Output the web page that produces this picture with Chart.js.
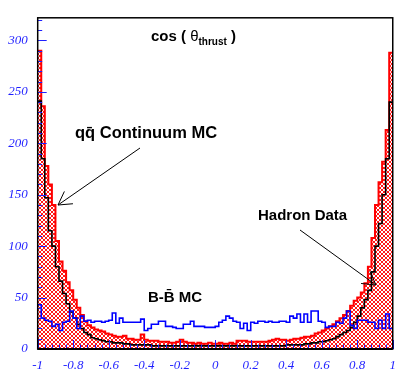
<!DOCTYPE html>
<html>
<head>
<meta charset="utf-8">
<script src="https://cdn.jsdelivr.net/npm/chart.js@4"></script>
<style>
  html, body { margin: 0; padding: 0; background: #fff; }
  #wrap { width: 405px; height: 371px; }
</style>
</head>
<body>
<div id="wrap"><canvas id="thrust" width="405" height="371"></canvas></div>
<script>
// cos(theta_thrust), 100 bins from -1 to 1
const binLow = -1;
const binWidth = 0.02;

const hadronData = [
  290, 236, 178, 160, 140, 105, 85, 76, 65, 57, 48, 40, 33, 27, 23, 21, 19, 18, 17, 15, 14, 13, 12, 12, 13,
  10, 10, 9, 9, 14, 9, 8, 8, 8, 7, 7, 7, 6, 6, 7, 9, 7, 6, 6, 5, 6, 5, 5, 6, 5,
  5, 6, 5, 5, 6, 5, 8, 8, 8, 7, 7, 7, 7, 7, 7, 8, 9, 10, 9, 9, 8, 9, 10, 10, 11,
  12, 12, 13, 15, 16, 18, 20, 22, 24, 27, 30, 33, 37, 42, 47, 50, 55, 64, 80, 108, 140, 162, 182, 213, 288
];
const continuumMC = [
  241, 185, 147, 115, 100, 80, 66, 54, 44, 36, 30, 24, 20, 16, 14, 11, 10, 9, 8, 7, 7, 6, 6, 6, 5,
  5, 4, 4, 4, 4, 4, 4, 3, 3, 3, 3, 3, 3, 3, 3, 3, 3, 3, 3, 3, 3, 3, 3, 3, 3,
  3, 3, 3, 3, 3, 3, 3, 3, 3, 3, 3, 3, 3, 3, 3, 3, 3, 3, 3, 3, 4, 4, 4, 4, 4,
  5, 5, 6, 6, 7, 7, 8, 9, 10, 12, 14, 16, 18, 21, 26, 32, 40, 48, 57, 75, 100, 122, 150, 185, 240
];
const bbbarMC = [
  43, 30, 28, 27, 22, 24, 18, 26, 27, 37, 30, 20, 32, 27, 28, 26, 27, 27, 26, 27, 28, 35, 25, 30, 26,
  26, 26, 26, 26, 29, 18, 20, 24, 24, 27, 27, 22, 22, 21, 20, 20, 24, 24, 27, 22, 22, 22, 21, 21, 21,
  22, 26, 28, 32, 30, 27, 26, 20, 25, 18, 26, 25, 27, 27, 26, 27, 26, 26, 27, 27, 26, 32, 30, 34, 26,
  34, 26, 37, 37, 27, 26, 21, 22, 22, 26, 25, 30, 37, 23, 20, 28, 28, 28, 26, 26, 20, 28, 20, 34, 20
];

const xTicks = [-1, -0.8, -0.6, -0.4, -0.2, 0, 0.2, 0.4, 0.6, 0.8, 1];
const yTicks = [0, 50, 100, 150, 200, 250, 300];

const tickBlue = '#1f1fff';
const tickFont = { family: "'Liberation Serif', 'Times New Roman', serif", size: 13, style: 'italic' };

// histogram as step line: one point per bin low edge, plus the last edge
function histPoints(values) {
  const pts = values.map((v, i) => ({ x: binLow + i * binWidth, y: v }));
  pts.push({ x: binLow + values.length * binWidth, y: values[values.length - 1] });
  return pts;
}

function crossHatch() {
  const c = document.createElement('canvas');
  c.width = 4; c.height = 4;
  const g = c.getContext('2d');
  g.fillStyle = '#fff';
  g.fillRect(0, 0, 4, 4);
  g.strokeStyle = '#ff0000';
  g.lineWidth = 0.9;
  g.beginPath();
  g.moveTo(-1, -1); g.lineTo(5, 5);
  g.moveTo(-1, 5); g.lineTo(5, -1);
  g.stroke();
  return g.createPattern(c, 'repeat');
}

function arrow(ctx, x1, y1, x2, y2) {
  const ang = Math.atan2(y1 - y2, x1 - x2);
  const len = 15, spread = Math.PI / 6;
  ctx.beginPath();
  ctx.moveTo(x1, y1); ctx.lineTo(x2, y2);
  ctx.moveTo(x2 + len * Math.cos(ang - spread), y2 + len * Math.sin(ang - spread));
  ctx.lineTo(x2, y2);
  ctx.lineTo(x2 + len * Math.cos(ang + spread), y2 + len * Math.sin(ang + spread));
  ctx.stroke();
}

const decorations = {
  id: 'decorations',
  afterDatasetsDraw(chart) {
    const { ctx, chartArea: a, scales: { x, y } } = chart;
    ctx.save();

    // inner ticks, ROOT style
    ctx.strokeStyle = tickBlue;
    ctx.lineWidth = 1;
    ctx.beginPath();
    for (let v = 0; v <= y.max; v += 10) {
      const py = Math.round(y.getPixelForValue(v)) + 0.5;
      const len = v % 50 === 0 ? 9 : 4.5;
      ctx.moveTo(a.left, py); ctx.lineTo(a.left + len, py);
    }
    for (let i = 0; i <= 50; i++) {
      const px = Math.round(x.getPixelForValue(-1 + i * 0.04)) + 0.5;
      const len = i % 5 === 0 ? 9 : 4.5;
      ctx.moveTo(px, a.bottom); ctx.lineTo(px, a.bottom - len);
    }
    ctx.stroke();

    // frame
    ctx.strokeStyle = '#000';
    ctx.lineWidth = 1.5;
    ctx.strokeRect(a.left, a.top, a.right - a.left, a.bottom - a.top);
    ctx.lineWidth = 2;
    ctx.beginPath();
    ctx.moveTo(a.left, a.bottom); ctx.lineTo(a.right, a.bottom);
    ctx.stroke();

    // labels
    ctx.fillStyle = '#000';
    ctx.textBaseline = 'alphabetic';
    ctx.textAlign = 'left';
    ctx.font = 'bold 15px "Liberation Sans"';
    let tx = 151;
    ctx.fillText('cos ( ', tx, 41);
    tx += ctx.measureText('cos ( ').width;
    ctx.font = '15px "Liberation Sans"';
    ctx.fillText('\u03b8', tx, 41);
    tx += ctx.measureText('\u03b8').width;
    ctx.font = 'bold 10px "Liberation Sans"';
    ctx.fillText('thrust', tx, 45);
    tx += ctx.measureText('thrust').width;
    ctx.font = 'bold 15px "Liberation Sans"';
    ctx.fillText(' )', tx, 41);

    ctx.fillText('Hadron Data', 258, 220);
    ctx.fillText('B-B\u0304 MC', 148, 302);
    ctx.font = 'bold 16.5px "Liberation Sans"';
    ctx.fillText('qq\u0304 Continuum MC', 75, 138);

    // arrows
    ctx.strokeStyle = '#000';
    ctx.lineWidth = 1;
    arrow(ctx, 140, 148, 58, 205);
    arrow(ctx, 300, 230, 376, 285);

    ctx.restore();
  }
};

new Chart(document.getElementById('thrust'), {
  type: 'line',
  data: {
    datasets: [
      {
        label: 'B-Bbar MC',
        data: histPoints(bbbarMC),
        borderColor: '#0000ff',
        borderWidth: 1.6,
        pointRadius: 0,
        stepped: 'before',
        fill: false,
      },
      {
        label: 'qqbar Continuum MC',
        data: histPoints(continuumMC),
        borderColor: '#000000',
        borderWidth: 1.6,
        pointRadius: 0,
        stepped: 'before',
        fill: false,
      },
      {
        label: 'Hadron Data',
        data: histPoints(hadronData),
        borderColor: '#ff0000',
        borderWidth: 2,
        backgroundColor: crossHatch(),
        pointRadius: 0,
        stepped: 'before',
        fill: 'origin',
      },
    ],
  },
  options: {
    responsive: false,
    animation: false,
    events: [],
    layout: { padding: { top: 7, right: 2.5, left: 0, bottom: 0 } },
    plugins: { legend: { display: false }, tooltip: { enabled: false } },
    scales: {
      x: {
        type: 'linear',
        min: -1,
        max: 1,
        grid: { display: false, drawTicks: false },
        border: { display: false },
        afterBuildTicks: (s) => { s.ticks = xTicks.map((v) => ({ value: v })); },
        afterFit: (s) => { s.height = 22; },
        ticks: {
          color: tickBlue,
          padding: 9,
          maxRotation: 0,
          font: tickFont,
          callback: (v) => String(v),
        },
      },
      y: {
        type: 'linear',
        min: 0,
        max: 322,
        grid: { display: false, drawTicks: false },
        border: { display: false },
        afterBuildTicks: (s) => { s.ticks = yTicks.map((v) => ({ value: v })); },
        afterFit: (s) => { s.width = 37.7; },
        ticks: {
          color: tickBlue,
          padding: 10,
          font: tickFont,
          callback: (v) => String(v),
        },
      },
    },
  },
  plugins: [decorations],
});
</script>
</body>
</html>
